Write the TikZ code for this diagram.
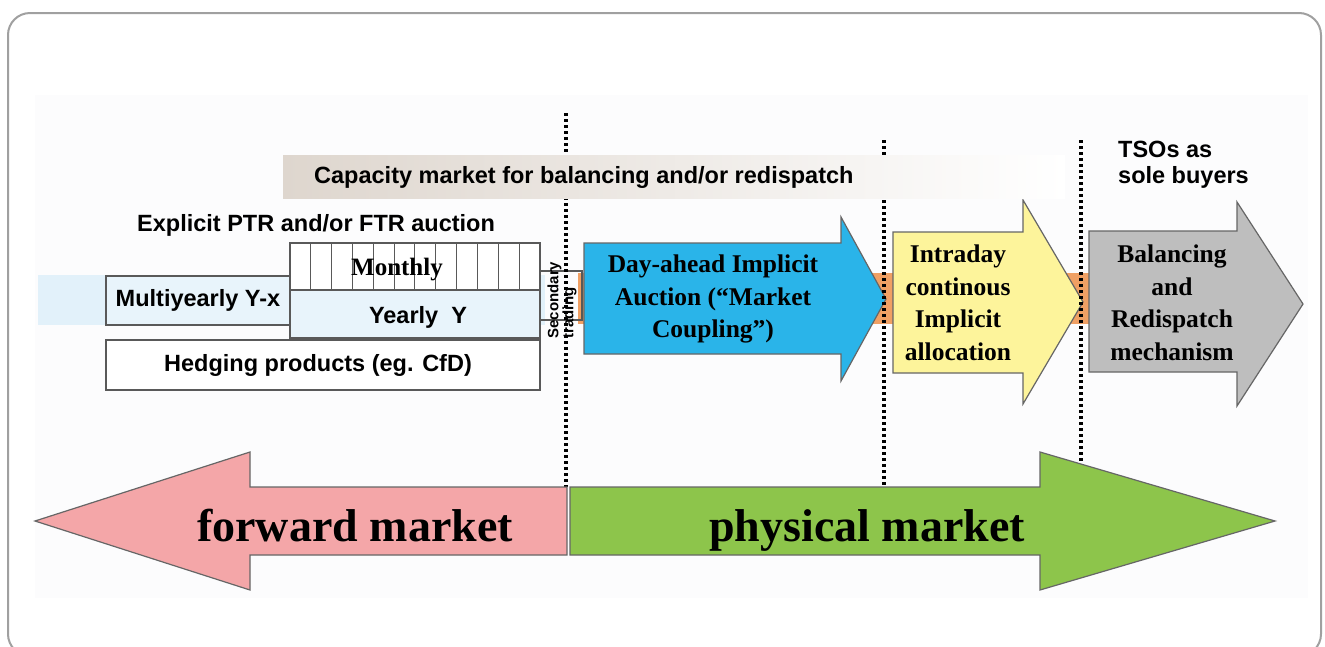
\documentclass[tikz,border=0pt]{standalone}
\usepackage{fontspec}
\setmainfont{Liberation Serif}
\setsansfont{Liberation Sans}
\usepackage{tikz}
\usetikzlibrary{positioning}

\definecolor{framegray}{RGB}{160,160,160}
\definecolor{pagegray}{RGB}{252,252,253}
\definecolor{bandblue}{RGB}{226,241,250}
\definecolor{boxblue}{RGB}{232,244,251}
\definecolor{bandorange}{RGB}{240,160,100}
\definecolor{captan}{RGB}{222,214,206}
\definecolor{dayblue}{RGB}{42,180,233}
\definecolor{intrayellow}{RGB}{253,244,155}
\definecolor{balgray}{RGB}{190,190,190}
\definecolor{fwdpink}{RGB}{244,166,168}
\definecolor{physgreen}{RGB}{141,197,75}

\begin{document}
\begin{tikzpicture}[x=1pt,y=-1pt,
  sanslabel/.style={font=\sffamily\bfseries\fontsize{23.5}{26}\selectfont,inner sep=0pt},
  seriflabel/.style={font=\bfseries\fontsize{25.5}{32.5}\selectfont,align=center,inner sep=0pt},
  marketlabel/.style={font=\bfseries\fontsize{46}{50}\selectfont,inner sep=0pt,anchor=base},
  prodbox/.style={draw=black!65,line width=1.3pt},
  blockarrow/.style={draw=black!60,line width=1.2pt},
  gate/.style={line width=3.2pt,dash pattern=on 3pt off 3pt}]

% page and frame
\clip (0,0) rectangle (1325,646);
\draw[framegray,line width=2pt,rounded corners=22pt] (8,13) rectangle (1321,656);
\fill[pagegray] (35,95) rectangle (1308,598);

% bands behind the products
\fill[bandblue] (38,275) rectangle (545,325);
\fill[bandorange] (578,273) rectangle (1093,324);

% explicit auction products
\draw[prodbox,fill=boxblue] (106,276) rectangle (290,325);
\draw[prodbox,fill=white] (290,243) rectangle (540,290);
\foreach \i in {1,...,11}
  \draw[black!65,line width=1pt] (290+\i*20.83,243) -- (290+\i*20.83,290);
\draw[prodbox,fill=boxblue] (290,290) rectangle (540,338);
\draw[prodbox,fill=white] (106,340) rectangle (540,390);
\draw[prodbox] (540,271) rectangle (582,320);

% implicit allocation arrows
\draw[blockarrow,fill=dayblue] (584,243) -- (841,243) -- (841,217) -- (886,299)
  -- (841,381) -- (841,354) -- (584,354) -- cycle;
\draw[blockarrow,fill=intrayellow] (893,232) -- (1023,232) -- (1023,200) -- (1083,302)
  -- (1023,404) -- (1023,373) -- (893,373) -- cycle;
\draw[blockarrow,fill=balgray] (1089,231) -- (1237,231) -- (1237,202) -- (1303,304)
  -- (1237,406) -- (1237,372) -- (1089,372) -- cycle;

% gate closures
\draw[gate] (566,113) -- (566,487);
\draw[gate] (884,140) -- (884,487);
\draw[gate] (1081,140) -- (1081,487);

% capacity band over the gates
\shade[left color=captan,right color=white] (283,155) rectangle (1065,198);

% forward and physical market
\draw[blockarrow,fill=fwdpink] (567,487) -- (250,487) -- (250,452) -- (35,521)
  -- (250,590) -- (250,555) -- (567,555) -- cycle;
\draw[blockarrow,fill=physgreen] (570,487) -- (1040,487) -- (1040,452) -- (1275,521)
  -- (1040,590) -- (1040,555) -- (570,555) -- cycle;

% labels
\node[sanslabel,anchor=west] (capacity) at (314,177) {Capacity market for balancing and/or redispatch};
\node[sanslabel,anchor=west,align=left] (tso) at (1118,165) {TSOs as\\sole buyers};
\node[sanslabel,anchor=west] (explicit) at (137,225) {Explicit PTR and/or FTR auction};
\node[sanslabel] (multiyear) at (198,300) {Multiyearly Y-x};
\node[font=\bfseries\fontsize{25}{28}\selectfont,inner sep=0pt] (monthly) at (397,270) {Monthly};
\node[sanslabel] (yearly) at (418,317) {Yearly\ \ Y};
\node[sanslabel] (hedging) at (318,365) {Hedging products (eg. CfD)};
\node[font=\sffamily\bfseries\fontsize{15}{15}\selectfont,inner sep=0pt,rotate=90,align=left]
  (secondary) at (562,300) {Secondary\\trading};
\node[seriflabel] (dayahead) at (713,299) {Day-ahead Implicit\\Auction (“Market\\Coupling”)};
\node[seriflabel] (intraday) at (958,303) {Intraday\\continous\\Implicit\\allocation};
\node[seriflabel] (balancing) at (1172,303) {Balancing\\and\\Redispatch\\mechanism};
\node[marketlabel] (forward) at (355,541) {forward market};
\node[marketlabel] (physical) at (867,541) {physical market};

\end{tikzpicture}
\end{document}
